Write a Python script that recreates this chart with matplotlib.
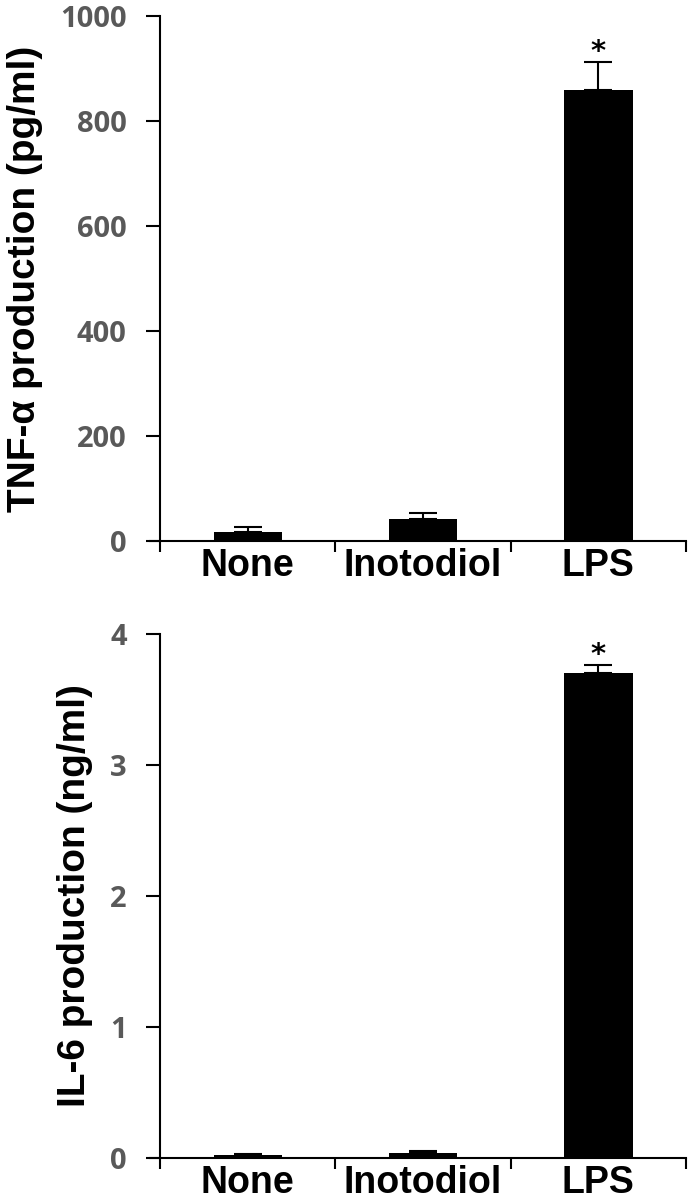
import matplotlib
matplotlib.use("Agg")
import matplotlib.pyplot as plt
import numpy as np

# Daten
groups = ["None", "Inotodiol", "LPS"]
tnf_mean = [17, 42, 860]
tnf_err = [10, 12, 52]
il6_mean = [0.02, 0.04, 3.70]
il6_err = [0.01, 0.01, 0.06]

fig = plt.figure(figsize=(6.93, 12.04), dpi=100)
ax1 = fig.add_axes([0.231, 0.5507, 0.759, 0.436])
ax2 = fig.add_axes([0.231, 0.0382, 0.759, 0.4352])

def style_axis(ax, means, errs, ymax, step, ylabel, star_off):
    x = np.arange(len(groups))
    ax.bar(x, means, width=0.39, color="black", zorder=2)
    ax.errorbar(x, means, yerr=[np.zeros(len(errs)), errs], fmt="none",
                ecolor="black", elinewidth=1.5, capsize=10, capthick=1.5, zorder=3)
    ax.text(x[2], means[2] + errs[2] + star_off, "*", ha="center", va="bottom",
            fontsize=21, fontweight="bold")
    ax.set_xlim(-0.5, 2.5)
    ax.set_ylim(0, ymax)
    ax.set_yticks(np.arange(0, ymax + step / 2, step))
    ax.spines["top"].set_visible(False)
    ax.spines["right"].set_visible(False)
    for s in ["left", "bottom"]:
        ax.spines[s].set_linewidth(1.5)
    # Ticks an den Grenzen, Labels in der Mitte
    ax.set_xticks([-0.5, 0.5, 1.5, 2.5])
    ax.set_xticklabels([])
    ax.set_xticks(x, minor=True)
    ax.set_xticklabels(groups, minor=True, fontsize=27, fontweight="bold",
                       family="Liberation Sans")
    ax.tick_params(axis="x", which="major", length=8, width=1.5, direction="out")
    ax.tick_params(axis="x", which="minor", length=0, pad=5)
    ax.tick_params(axis="y", length=10, width=1.5, direction="out", pad=14,
                   labelsize=21, labelcolor="#595959")
    for lab in ax.get_yticklabels():
        lab.set_fontweight("bold")
        lab.set_family("Open Sans")
    ax.set_ylabel(ylabel, fontsize=28, fontweight="bold", family="Liberation Sans",
                  labelpad=12)

style_axis(ax1, tnf_mean, tnf_err, 1000, 200,
           "TNF-α production (pg/ml)", -8)
style_axis(ax2, il6_mean, il6_err, 4, 1, "IL-6 production (ng/ml)", -0.03)
ax1.spines["bottom"].set_bounds(-0.56, 2.5)
ax2.spines["bottom"].set_bounds(-0.56, 2.5)

fig.savefig("out.png", dpi=100)
